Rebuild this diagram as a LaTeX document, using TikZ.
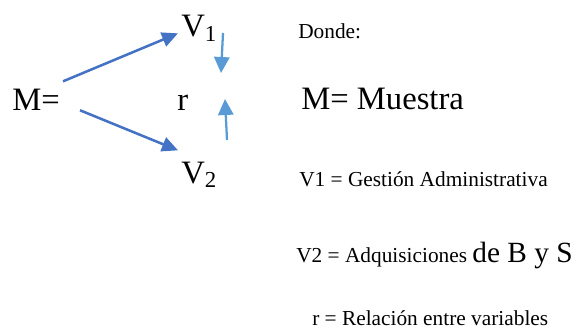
\documentclass[tikz,border=0pt]{standalone}
\usepackage{fontspec}
\setmainfont{Liberation Serif}
\usepackage{xcolor}
\usetikzlibrary{positioning}
\usetikzlibrary{arrows.meta}

\definecolor{darkarrow}{HTML}{4472C4}
\definecolor{lightarrow}{HTML}{5B9BD5}

\begin{document}
\begin{tikzpicture}[x=0.75pt, y=-0.75pt,
    bigtxt/.style={inner sep=0pt, anchor=base west, font=\fontsize{24.5}{28}\selectfont},
    smalltxt/.style={inner sep=0pt, anchor=base west, font=\fontsize{16}{19}\selectfont},
    mainarrow/.style={darkarrow, line width=1.9pt, -{Triangle[length=12pt,width=11pt]}},
    relarrow/.style={lightarrow, line width=1.7pt, -{Triangle[length=12pt,width=11.5pt]}}]
    \useasboundingbox (0,0) rectangle (577,335);

    % left part
    \node[bigtxt] (meq) at (12,110) {M=};
    \node[bigtxt] (v1) at (181,37) {V\textsubscript{1}};
    \node[bigtxt] (r) at (177,110) {r};
    \node[bigtxt] (v2) at (181,183) {V\textsubscript{2}};
    \draw[mainarrow] ([shift={(3,-7)}]meq.north east) -- ([shift={(-3,18)}]v1.north west);
    \draw[mainarrow] ([shift={(20,0)}]meq.south east) -- ([shift={(-3,-11)}]v2.north west);

    \coordinate (d1) at (223,33);
    \coordinate (d2) at (221,73);
    \coordinate (u1) at (227,140);
    \coordinate (u2) at (225,99);
    \draw[relarrow] (d1) -- (d2);
    \draw[relarrow] (u1) -- (u2);

    % right part
    \node[smalltxt] (donde) at (298,39) {Donde:};
    \node[bigtxt] (muestra) at (301,109) {M= Muestra};
    \node[smalltxt] (gestion) at (299,186) {V1 = Gestión Administrativa};
    \node[smalltxt] (adq) at (296,262) {V2 = Adquisiciones {\fontsize{22}{26}\selectfont de B y S}};
    \node[smalltxt] (rel) at (312,325) {r = Relación entre variables};
\end{tikzpicture}
\end{document}
